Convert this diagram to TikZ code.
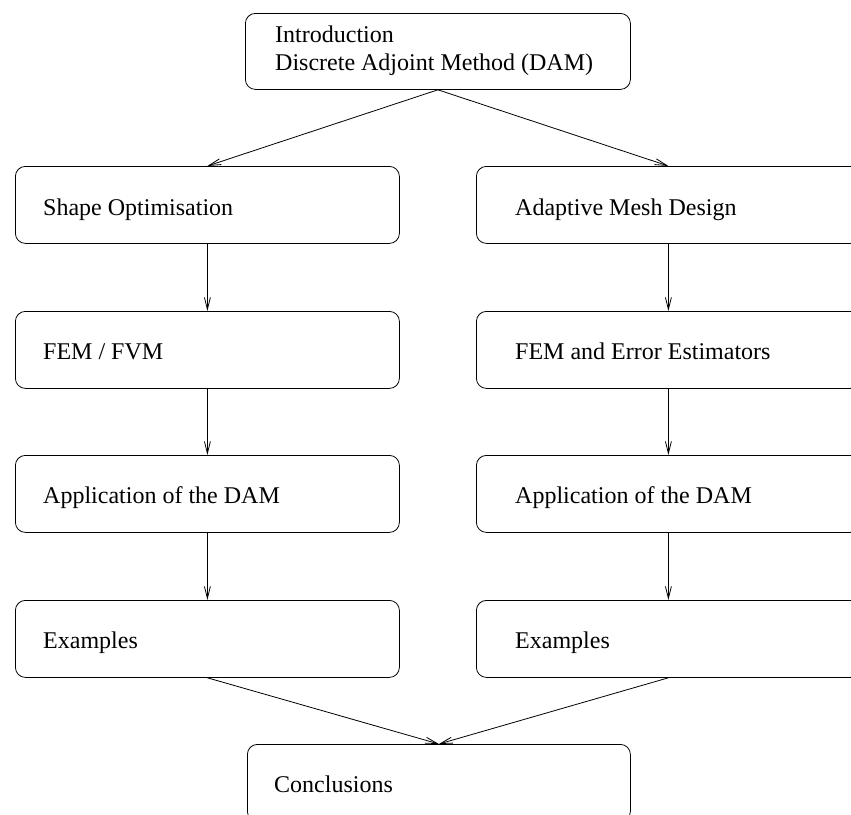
\documentclass[tikz,border=0pt]{standalone}
\usepackage{fontspec}
\setmainfont{Liberation Serif}
\usetikzlibrary{arrows.meta,calc}
\begin{document}
\begin{tikzpicture}[x=1pt,y=-1pt,
  box/.style={draw=black, line width=0.8pt, rounded corners=10pt, minimum width=384pt, minimum height=77pt, inner sep=0pt, anchor=north west},
  lbl/.style={font=\fontsize{24}{28}\selectfont, inner sep=0pt, anchor=base west},
  conn/.style={draw=black, line width=0.8pt, -{Straight Barb[length=12pt,width=6pt]}}]
\path[use as bounding box, clip] (0,0) rectangle (851,814);
% boxes
\node[box, minimum width=385pt, minimum height=76pt] (top) at (245,13) {};
\node[box] (l1) at (15,166) {};
\node[box] (l2) at (15,311) {};
\node[box] (l3) at (15,455) {};
\node[box] (l4) at (15,600) {};
\node[box] (r1) at (476,166) {};
\node[box] (r2) at (476,311) {};
\node[box] (r3) at (476,455) {};
\node[box] (r4) at (476,600) {};
\node[box, minimum width=383pt] (con) at (247,744) {};
% labels
\node[lbl] (t1) at ($(top.north west)+(30,29)$) {Introduction};
\node[lbl] (t2) at ($(top.north west)+(30,57)$) {Discrete Adjoint Method (DAM)};
\node[lbl] (tl1) at ($(l1.north west)+(28,49)$) {Shape Optimisation};
\node[lbl] (tl2) at ($(l2.north west)+(28,48)$) {FEM / FVM};
\node[lbl] (tl3) at ($(l3.north west)+(28,48)$) {Application of the DAM};
\node[lbl] (tl4) at ($(l4.north west)+(28,48)$) {Examples};
\node[lbl] (tr1) at ($(r1.north west)+(39,49)$) {Adaptive Mesh Design};
\node[lbl] (tr2) at ($(r2.north west)+(39,48)$) {FEM and Error Estimators};
\node[lbl] (tr3) at ($(r3.north west)+(39,48)$) {Application of the DAM};
\node[lbl] (tr4) at ($(r4.north west)+(39,48)$) {Examples};
\node[lbl] (tc) at ($(con.north west)+(27,48)$) {Conclusions};
% connectors
\draw[conn] (top.south) -- (l1.north);
\draw[conn] (top.south) -- (r1.north);
\draw[conn] (l1.south) -- (l2.north);
\draw[conn] (l2.south) -- (l3.north);
\draw[conn] (l3.south) -- (l4.north);
\draw[conn] (r1.south) -- (r2.north);
\draw[conn] (r2.south) -- (r3.north);
\draw[conn] (r3.south) -- (r4.north);
\draw[conn] (l4.south) -- (con.north);
\draw[conn] (r4.south) -- (con.north);
\end{tikzpicture}
\end{document}
